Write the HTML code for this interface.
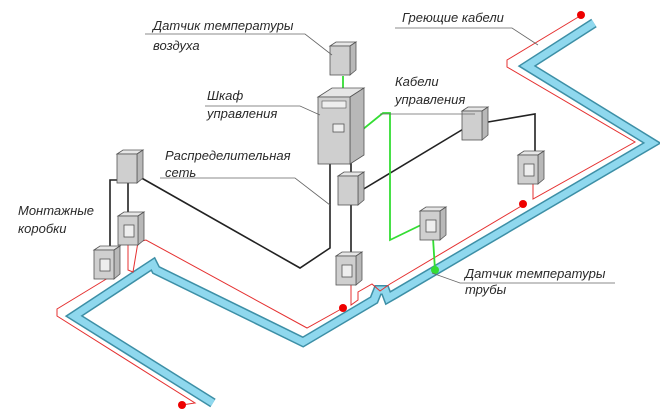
<!DOCTYPE html>
<html><head><meta charset="utf-8"><style>
html,body{margin:0;padding:0;background:#fff;}
svg{display:block;}
text{font-family:"Liberation Sans","DejaVu Sans",sans-serif;font-style:italic;font-size:13px;fill:#2a2a2a;}
</style></head><body>
<svg width="660" height="416" viewBox="0 0 660 416" xmlns="http://www.w3.org/2000/svg">
<defs>
<g id="b">
<polygon points="0,4 6,0 26,0 20,4" fill="#e6e6e6" stroke="#555" stroke-width="0.8"/>
<polygon points="20,4 26,0 26,28 20,33" fill="#b8b8b8" stroke="#555" stroke-width="0.8"/>
<rect x="0" y="4" width="20" height="29" fill="#cfcfcf" stroke="#555" stroke-width="0.8"/>
</g>
<g id="bw">
<polygon points="0,4 6,0 26,0 20,4" fill="#e6e6e6" stroke="#555" stroke-width="0.8"/>
<polygon points="20,4 26,0 26,28 20,33" fill="#b8b8b8" stroke="#555" stroke-width="0.8"/>
<rect x="0" y="4" width="20" height="29" fill="#cfcfcf" stroke="#555" stroke-width="0.8"/>
<rect x="6" y="13" width="10" height="12" fill="#eee" stroke="#555" stroke-width="0.8"/>
</g>
</defs>
<!-- pipe -->
<path d="M213,403 L74,316 L153,264 L156,270 L303,342 L374,300 L378,290 L385,290 L388,298 L395,294 L652,143 L527,66 L594,23" fill="none" stroke="#3d8fa6" stroke-width="10" stroke-linejoin="miter"/>
<path d="M213,403 L74,316 L153,264 L156,270 L303,342 L374,300 L378,290 L385,290 L388,298 L395,294 L652,143 L527,66 L594,23" fill="none" stroke="#8fd8ee" stroke-width="7"/>
<!-- red heating cable -->
<g fill="none" stroke="#e53030" stroke-width="1">
<path d="M182,405 L195,403 L57,316 L57,309 L108,278"/>
<path d="M128,245 L128,270 L133,272 L138,242 L146,240 L307,328 L343,308"/>
<path d="M351,285 L351,305 L358,300 L358,292 L372,284 L380,291 L390,284 L523,205"/>
<path d="M533,180 L533,199 L635,142 L507,67 L507,60 L580,16"/>
</g>
<g fill="#e00">
<circle cx="182" cy="405" r="4"/><circle cx="343" cy="308" r="4"/><circle cx="523" cy="204" r="4"/><circle cx="581" cy="15" r="4"/>
</g>
<!-- black network -->
<g fill="none" stroke="#222" stroke-width="1.6">
<path d="M330,160 L330,248 L300,268 L138,176"/>
<path d="M351,160 L351,255"/>
<path d="M362,190 L465,128"/>
<path d="M488,122 L535,114 L535,155"/>
<path d="M117,180 L110,180 L110,255"/>
<path d="M128,180 L128,215"/>
</g>
<!-- green -->
<g fill="none" stroke="#33dd33" stroke-width="1.8">
<path d="M343,76 L343,92"/>
<path d="M362,130 L383,113 L390,113 L390,240 L421,225"/>
<path d="M433,238 L435,270"/>
</g>
<circle cx="435" cy="270" r="4" fill="#33dd33"/>
<!-- boxes -->
<use href="#b" x="330" y="42"/>
<use href="#b" x="338" y="172"/>
<use href="#b" x="462" y="107"/>
<use href="#bw" x="518" y="151"/>
<use href="#bw" x="420" y="207"/>
<use href="#b" x="117" y="150"/>
<use href="#bw" x="118" y="212"/>
<use href="#bw" x="94" y="246"/>
<use href="#bw" x="336" y="252"/>
<!-- cabinet -->
<polygon points="318,97 332,88 364,88 350,97" fill="#e6e6e6" stroke="#555" stroke-width="0.8"/>
<polygon points="350,97 364,88 364,155 350,164" fill="#b8b8b8" stroke="#555" stroke-width="0.8"/>
<rect x="318" y="97" width="32" height="67" fill="#cfcfcf" stroke="#555" stroke-width="0.8"/>
<rect x="322" y="101" width="24" height="7" fill="#eee" stroke="#555" stroke-width="0.6"/>
<rect x="333" y="124" width="11" height="8" fill="#eee" stroke="#555" stroke-width="0.8"/>
<!-- leader lines -->
<g fill="none" stroke="#666" stroke-width="0.8">
<path d="M145,34 L305,34 L332,55"/>
<path d="M205,106 L300,106 L320,115"/>
<path d="M160,178 L295,178 L330,205"/>
<path d="M380,114 L475,114"/>
<path d="M395,28 L512,28 L538,45"/>
<path d="M432,273 L460,283 L615,283"/>
</g>
<text x="153" y="30">Датчик температуры</text>
<text x="153" y="50">воздуха</text>
<text x="207" y="100">Шкаф</text>
<text x="207" y="118">управления</text>
<text x="165" y="160">Распределительная</text>
<text x="165" y="177">сеть</text>
<text x="395" y="86">Кабели</text>
<text x="395" y="104">управления</text>
<text x="402" y="22">Греющие кабели</text>
<text x="18" y="215">Монтажные</text>
<text x="18" y="233">коробки</text>
<text x="465" y="278">Датчик температуры</text>
<text x="465" y="294">трубы</text>
</svg>
</body></html>
